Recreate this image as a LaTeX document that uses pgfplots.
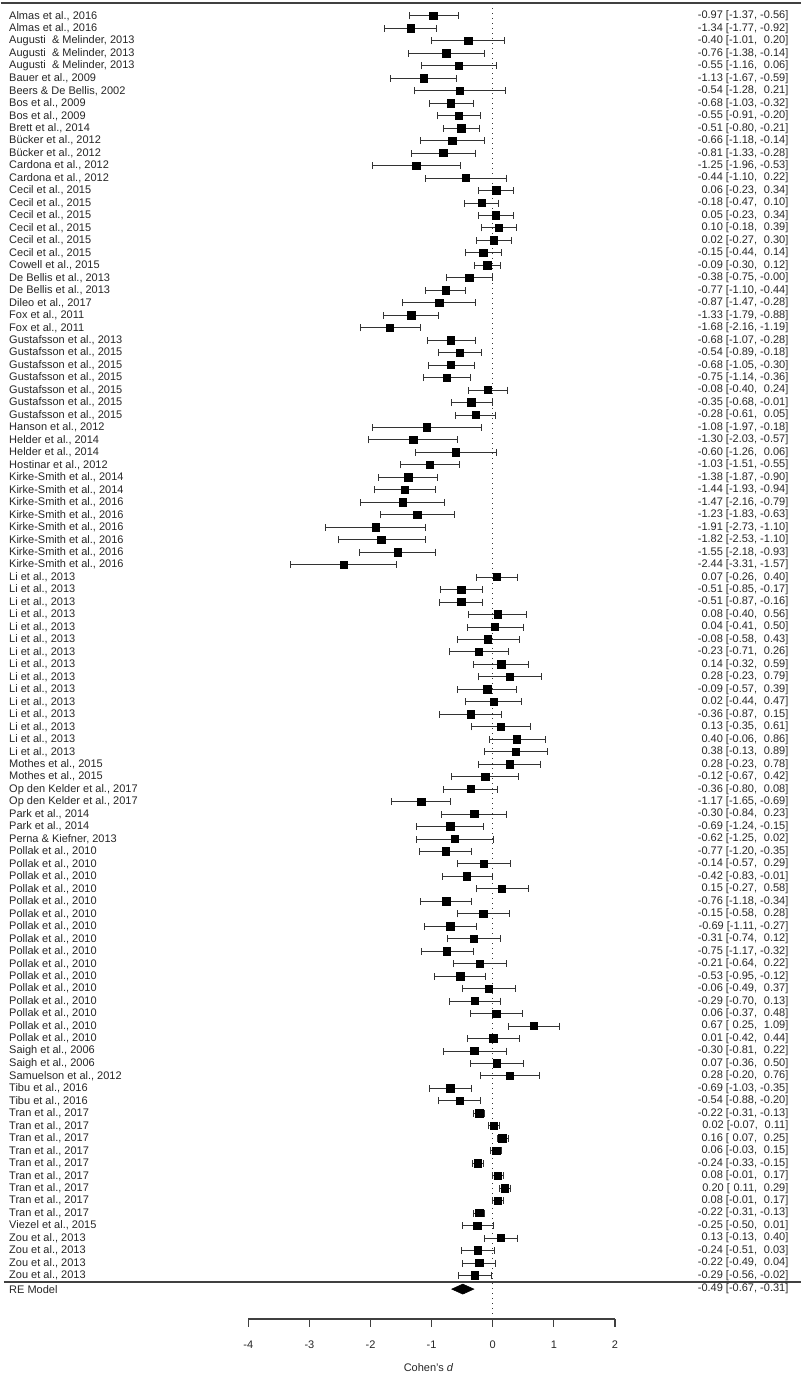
\documentclass[border=0pt]{standalone}
\usepackage{pgfplots}
\pgfplotsset{compat=1.18}
\usepackage{pgfplotstable}
\usepackage{fontspec}
\setmainfont{Liberation Sans}

% effect sizes: d, 95% CI, study label, printed text
\pgfplotstableread[col sep=semicolon]{
d;lo;hi;lab;txt
-0.97;-1.37;-0.56;Almas et al., 2016;-0.97 [-1.37, -0.56]
-1.34;-1.77;-0.92;Almas et al., 2016;-1.34 [-1.77, -0.92]
-0.40;-1.01;0.20;Augusti \ \& Melinder, 2013;-0.40 [-1.01, \phantom{-}0.20]
-0.76;-1.38;-0.14;Augusti \ \& Melinder, 2013;-0.76 [-1.38, -0.14]
-0.55;-1.16;0.06;Augusti \ \& Melinder, 2013;-0.55 [-1.16, \phantom{-}0.06]
-1.13;-1.67;-0.59;Bauer et al., 2009;-1.13 [-1.67, -0.59]
-0.54;-1.28;0.21;Beers \& De Bellis, 2002;-0.54 [-1.28, \phantom{-}0.21]
-0.68;-1.03;-0.32;Bos et al., 2009;-0.68 [-1.03, -0.32]
-0.55;-0.91;-0.20;Bos et al., 2009;-0.55 [-0.91, -0.20]
-0.51;-0.80;-0.21;Brett et al., 2014;-0.51 [-0.80, -0.21]
-0.66;-1.18;-0.14;Bücker et al., 2012;-0.66 [-1.18, -0.14]
-0.81;-1.33;-0.28;Bücker et al., 2012;-0.81 [-1.33, -0.28]
-1.25;-1.96;-0.53;Cardona et al., 2012;-1.25 [-1.96, -0.53]
-0.44;-1.10;0.22;Cardona et al., 2012;-0.44 [-1.10, \phantom{-}0.22]
0.06;-0.23;0.34;Cecil et al., 2015;0.06 [-0.23, \phantom{-}0.34]
-0.18;-0.47;0.10;Cecil et al., 2015;-0.18 [-0.47, \phantom{-}0.10]
0.05;-0.23;0.34;Cecil et al., 2015;0.05 [-0.23, \phantom{-}0.34]
0.10;-0.18;0.39;Cecil et al., 2015;0.10 [-0.18, \phantom{-}0.39]
0.02;-0.27;0.30;Cecil et al., 2015;0.02 [-0.27, \phantom{-}0.30]
-0.15;-0.44;0.14;Cecil et al., 2015;-0.15 [-0.44, \phantom{-}0.14]
-0.09;-0.30;0.12;Cowell et al., 2015;-0.09 [-0.30, \phantom{-}0.12]
-0.38;-0.75;-0.00;De Bellis et al., 2013;-0.38 [-0.75, -0.00]
-0.77;-1.10;-0.44;De Bellis et al., 2013;-0.77 [-1.10, -0.44]
-0.87;-1.47;-0.28;Dileo et al., 2017;-0.87 [-1.47, -0.28]
-1.33;-1.79;-0.88;Fox et al., 2011;-1.33 [-1.79, -0.88]
-1.68;-2.16;-1.19;Fox et al., 2011;-1.68 [-2.16, -1.19]
-0.68;-1.07;-0.28;Gustafsson et al., 2013;-0.68 [-1.07, -0.28]
-0.54;-0.89;-0.18;Gustafsson et al., 2015;-0.54 [-0.89, -0.18]
-0.68;-1.05;-0.30;Gustafsson et al., 2015;-0.68 [-1.05, -0.30]
-0.75;-1.14;-0.36;Gustafsson et al., 2015;-0.75 [-1.14, -0.36]
-0.08;-0.40;0.24;Gustafsson et al., 2015;-0.08 [-0.40, \phantom{-}0.24]
-0.35;-0.68;-0.01;Gustafsson et al., 2015;-0.35 [-0.68, -0.01]
-0.28;-0.61;0.05;Gustafsson et al., 2015;-0.28 [-0.61, \phantom{-}0.05]
-1.08;-1.97;-0.18;Hanson et al., 2012;-1.08 [-1.97, -0.18]
-1.30;-2.03;-0.57;Helder et al., 2014;-1.30 [-2.03, -0.57]
-0.60;-1.26;0.06;Helder et al., 2014;-0.60 [-1.26, \phantom{-}0.06]
-1.03;-1.51;-0.55;Hostinar et al., 2012;-1.03 [-1.51, -0.55]
-1.38;-1.87;-0.90;Kirke-Smith et al., 2014;-1.38 [-1.87, -0.90]
-1.44;-1.93;-0.94;Kirke-Smith et al., 2014;-1.44 [-1.93, -0.94]
-1.47;-2.16;-0.79;Kirke-Smith et al., 2016;-1.47 [-2.16, -0.79]
-1.23;-1.83;-0.63;Kirke-Smith et al., 2016;-1.23 [-1.83, -0.63]
-1.91;-2.73;-1.10;Kirke-Smith et al., 2016;-1.91 [-2.73, -1.10]
-1.82;-2.53;-1.10;Kirke-Smith et al., 2016;-1.82 [-2.53, -1.10]
-1.55;-2.18;-0.93;Kirke-Smith et al., 2016;-1.55 [-2.18, -0.93]
-2.44;-3.31;-1.57;Kirke-Smith et al., 2016;-2.44 [-3.31, -1.57]
0.07;-0.26;0.40;Li et al., 2013;0.07 [-0.26, \phantom{-}0.40]
-0.51;-0.85;-0.17;Li et al., 2013;-0.51 [-0.85, -0.17]
-0.51;-0.87;-0.16;Li et al., 2013;-0.51 [-0.87, -0.16]
0.08;-0.40;0.56;Li et al., 2013;0.08 [-0.40, \phantom{-}0.56]
0.04;-0.41;0.50;Li et al., 2013;0.04 [-0.41, \phantom{-}0.50]
-0.08;-0.58;0.43;Li et al., 2013;-0.08 [-0.58, \phantom{-}0.43]
-0.23;-0.71;0.26;Li et al., 2013;-0.23 [-0.71, \phantom{-}0.26]
0.14;-0.32;0.59;Li et al., 2013;0.14 [-0.32, \phantom{-}0.59]
0.28;-0.23;0.79;Li et al., 2013;0.28 [-0.23, \phantom{-}0.79]
-0.09;-0.57;0.39;Li et al., 2013;-0.09 [-0.57, \phantom{-}0.39]
0.02;-0.44;0.47;Li et al., 2013;0.02 [-0.44, \phantom{-}0.47]
-0.36;-0.87;0.15;Li et al., 2013;-0.36 [-0.87, \phantom{-}0.15]
0.13;-0.35;0.61;Li et al., 2013;0.13 [-0.35, \phantom{-}0.61]
0.40;-0.06;0.86;Li et al., 2013;0.40 [-0.06, \phantom{-}0.86]
0.38;-0.13;0.89;Li et al., 2013;0.38 [-0.13, \phantom{-}0.89]
0.28;-0.23;0.78;Mothes et al., 2015;0.28 [-0.23, \phantom{-}0.78]
-0.12;-0.67;0.42;Mothes et al., 2015;-0.12 [-0.67, \phantom{-}0.42]
-0.36;-0.80;0.08;Op den Kelder et al., 2017;-0.36 [-0.80, \phantom{-}0.08]
-1.17;-1.65;-0.69;Op den Kelder et al., 2017;-1.17 [-1.65, -0.69]
-0.30;-0.84;0.23;Park et al., 2014;-0.30 [-0.84, \phantom{-}0.23]
-0.69;-1.24;-0.15;Park et al., 2014;-0.69 [-1.24, -0.15]
-0.62;-1.25;0.02;Perna \& Kiefner, 2013;-0.62 [-1.25, \phantom{-}0.02]
-0.77;-1.20;-0.35;Pollak et al., 2010;-0.77 [-1.20, -0.35]
-0.14;-0.57;0.29;Pollak et al., 2010;-0.14 [-0.57, \phantom{-}0.29]
-0.42;-0.83;-0.01;Pollak et al., 2010;-0.42 [-0.83, -0.01]
0.15;-0.27;0.58;Pollak et al., 2010;0.15 [-0.27, \phantom{-}0.58]
-0.76;-1.18;-0.34;Pollak et al., 2010;-0.76 [-1.18, -0.34]
-0.15;-0.58;0.28;Pollak et al., 2010;-0.15 [-0.58, \phantom{-}0.28]
-0.69;-1.11;-0.27;Pollak et al., 2010;-0.69 [-1.11, -0.27]
-0.31;-0.74;0.12;Pollak et al., 2010;-0.31 [-0.74, \phantom{-}0.12]
-0.75;-1.17;-0.32;Pollak et al., 2010;-0.75 [-1.17, -0.32]
-0.21;-0.64;0.22;Pollak et al., 2010;-0.21 [-0.64, \phantom{-}0.22]
-0.53;-0.95;-0.12;Pollak et al., 2010;-0.53 [-0.95, -0.12]
-0.06;-0.49;0.37;Pollak et al., 2010;-0.06 [-0.49, \phantom{-}0.37]
-0.29;-0.70;0.13;Pollak et al., 2010;-0.29 [-0.70, \phantom{-}0.13]
0.06;-0.37;0.48;Pollak et al., 2010;0.06 [-0.37, \phantom{-}0.48]
0.67;0.25;1.09;Pollak et al., 2010;0.67 [\phantom{-}0.25, \phantom{-}1.09]
0.01;-0.42;0.44;Pollak et al., 2010;0.01 [-0.42, \phantom{-}0.44]
-0.30;-0.81;0.22;Saigh et al., 2006;-0.30 [-0.81, \phantom{-}0.22]
0.07;-0.36;0.50;Saigh et al., 2006;0.07 [-0.36, \phantom{-}0.50]
0.28;-0.20;0.76;Samuelson et al., 2012;0.28 [-0.20, \phantom{-}0.76]
-0.69;-1.03;-0.35;Tibu et al., 2016;-0.69 [-1.03, -0.35]
-0.54;-0.88;-0.20;Tibu et al., 2016;-0.54 [-0.88, -0.20]
-0.22;-0.31;-0.13;Tran et al., 2017;-0.22 [-0.31, -0.13]
0.02;-0.07;0.11;Tran et al., 2017;0.02 [-0.07, \phantom{-}0.11]
0.16;0.07;0.25;Tran et al., 2017;0.16 [\phantom{-}0.07, \phantom{-}0.25]
0.06;-0.03;0.15;Tran et al., 2017;0.06 [-0.03, \phantom{-}0.15]
-0.24;-0.33;-0.15;Tran et al., 2017;-0.24 [-0.33, -0.15]
0.08;-0.01;0.17;Tran et al., 2017;0.08 [-0.01, \phantom{-}0.17]
0.20;0.11;0.29;Tran et al., 2017;0.20 [\phantom{-}0.11, \phantom{-}0.29]
0.08;-0.01;0.17;Tran et al., 2017;0.08 [-0.01, \phantom{-}0.17]
-0.22;-0.31;-0.13;Tran et al., 2017;-0.22 [-0.31, -0.13]
-0.25;-0.50;0.01;Viezel et al., 2015;-0.25 [-0.50, \phantom{-}0.01]
0.13;-0.13;0.40;Zou et al., 2013;0.13 [-0.13, \phantom{-}0.40]
-0.24;-0.51;0.03;Zou et al., 2013;-0.24 [-0.51, \phantom{-}0.03]
-0.22;-0.49;0.04;Zou et al., 2013;-0.22 [-0.49, \phantom{-}0.04]
-0.29;-0.56;-0.02;Zou et al., 2013;-0.29 [-0.56, -0.02]
}\studies

\begin{document}
\fontsize{5.5}{6.5}\selectfont
\begin{tikzpicture}
\begin{axis}[
  x=30.55pt, y=6.235pt,
  y dir=reverse,
  xmin=-8.052, xmax=5.041,
  ymin=-0.283, ymax=109.98,
  hide axis, clip=false,
  every node near coord/.style={font=\fontsize{5.5}{6.5}\selectfont, inner sep=0pt, text=black!85},
]
% keep the page as large as the axis
\path (axis cs:-8.052,-0.283) rectangle (axis cs:5.041,109.98);

% rules and reference line
\draw[black!75, line width=0.75pt] (axis cs:-8.052,-0.04) -- (axis cs:5.041,-0.04);
\draw[black!75, line width=0.6pt] (axis cs:-8.0,102.52) -- (axis cs:5.041,102.52);
\draw[black!80, dotted, line width=0.5pt] (axis cs:0,-0.04) -- (axis cs:0,105.49);

% studies
\addplot[only marks, mark=square*, mark size=1.85pt, black,
  error bars/.cd, x dir=both, x explicit,
  error bar style={line width=0.5pt, black!80},
  error mark options={rotate=90, mark size=1.75pt, line width=0.5pt, black!80}]
  table[x=d, y expr=\coordindex+1,
        x error plus expr=\thisrow{hi}-\thisrow{d},
        x error minus expr=\thisrow{d}-\thisrow{lo}] {\studies};

% study labels
\addplot[draw=none, point meta=explicit symbolic, nodes near coords,
  every node near coord/.append style={anchor=west}]
  table[x expr=-7.92, y expr=\coordindex+1, meta=lab] {\studies};
% effect text
\addplot[draw=none, point meta=explicit symbolic, nodes near coords,
  every node near coord/.append style={anchor=east}]
  table[x expr=4.845, y expr=\coordindex+1, meta=txt] {\studies};

% RE model
\addplot[fill=black, draw=black, line width=0.3pt]
  coordinates {(-0.67,103.09) (-0.49,102.69) (-0.31,103.09) (-0.49,103.49)} -- cycle;
\node[anchor=west, inner sep=0pt, text=black!85] at (axis cs:-7.92,103.09) {RE Model};
\node[anchor=east, inner sep=0pt, text=black!85] at (axis cs:4.845,103.09) {-0.49 [-0.67, -0.31]};

% x axis
\draw[black!75, line width=0.6pt] (axis cs:-4,105.49) -- (axis cs:2,105.49);
\pgfplotsinvokeforeach{-4,-3,-2,-1,0,1,2}{
  \draw[black!75, line width=0.6pt] (axis cs:#1,105.49) -- (axis cs:#1,106.13);
  \node[inner sep=0pt, text=black!85] at (axis cs:#1,107.58) {\ifnum#1<0 -\the\numexpr-#1\relax\else #1\fi};
}
\node[inner sep=0pt, text=black!85] at (axis cs:-1.05,109.42) {Cohen's \textit{d}};
\end{axis}
\end{tikzpicture}
\end{document}
